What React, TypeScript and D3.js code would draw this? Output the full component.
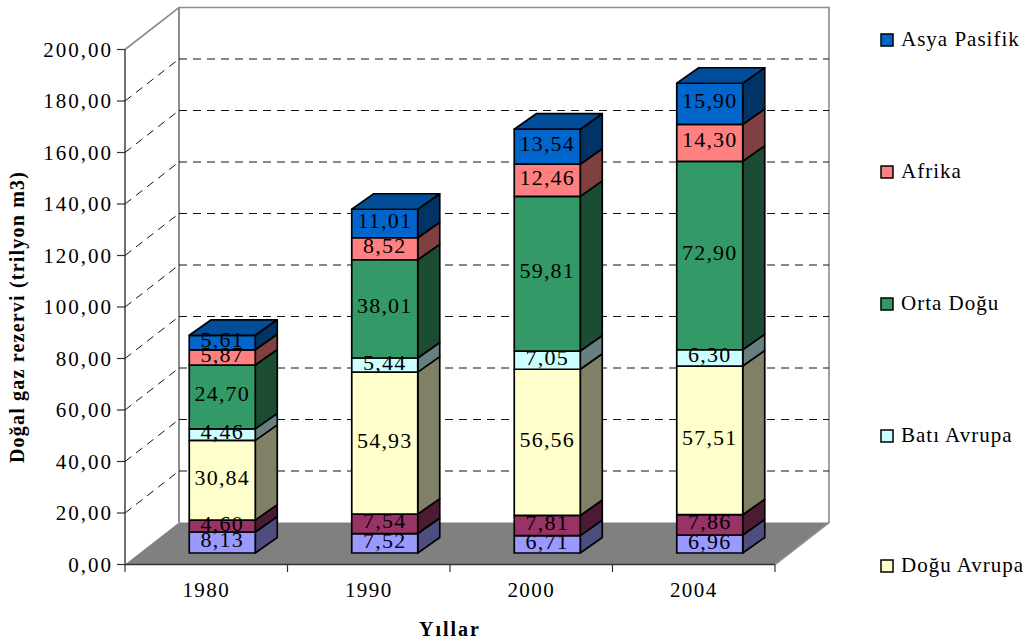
import React from "react";
import * as d3 from "d3";

// Natural gas reserves by region, trillion m3
const years = ["1980", "1990", "2000", "2004"];
const seriesNames = ["Rusya", "Kuzey Amerika", "Doğu Avrupa", "Batı Avrupa", "Orta Doğu", "Afrika", "Asya Pasifik"];
const baseA = [8.13, 7.52, 6.71, 6.96];
const baseB = [4.6, 7.54, 7.81, 7.86];
const doguAvrupa = [30.84, 54.93, 56.56, 57.51];
const batiAvrupa = [4.46, 5.44, 7.05, 6.3];
const ortaDogu = [24.7, 38.01, 59.81, 72.9];
const afrika = [5.87, 8.52, 12.46, 14.3];
const asyaPasifik = [5.61, 11.01, 13.54, 15.9];
const seriesValues = [baseA, baseB, doguAvrupa, batiAvrupa, ortaDogu, afrika, asyaPasifik];
const seriesColors = ["#9999FF", "#993366", "#FFFFCC", "#CCFFFF", "#339966", "#FF8080", "#0066CC"];
const legendEntries = [
  { name: "Asya Pasifik", series: 6, y: 40 },
  { name: "Afrika", series: 5, y: 172 },
  { name: "Orta Doğu", series: 4, y: 304 },
  { name: "Batı Avrupa", series: 3, y: 436 },
  { name: "Doğu Avrupa", series: 2, y: 566 },
];
const tickValues = d3.range(0, 201, 20);
const gridValues = d3.range(20, 181, 20);

const FONT = "'Liberation Serif', 'Times New Roman', serif";
const yScale = d3.scaleLinear().domain([0, 200]).range([564.5, 49.5]);
// Columns stand mid-depth on the floor, so they have their own vertical scale
const barScale = d3.scaleLinear().domain([0, 200]).range([553, 36]);
const xBand = d3.scaleBand().domain(years).range([125, 775]);
const wallDx = 54;
const wallDy = -42;
const barW = 66;
const barShift = 16;
const barDx = 22;
const barDy = -15.5;
const INK = "#000";
const WALL = "#8c8c8c";
const AXIS = "#333";

const shade = (c: string, k: number) => {
  const r = d3.rgb(c);
  return d3.rgb(r.r * k, r.g * k, r.b * k).formatHex();
};
const fmt = (v: number) => v.toFixed(2).replace(".", ",");
const poly = (pts: number[][]) => pts.map((p) => p.join(",")).join(" ");

export default function App() {
  const y0 = yScale(0);
  const x0 = 125;
  const x1 = 775;
  const wallTop = yScale(200) + wallDy;
  const floorBack = y0 + wallDy;
  return (
    <svg width={1028} height={644} style={{ position: "absolute", left: 0, top: 0, fontFamily: FONT }}>
      <rect width={1028} height={644} fill="#fff" />
      {/* Floor and walls */}
      <polygon points={poly([[x0, y0], [x0 + wallDx, floorBack], [x1 + wallDx, floorBack], [x1, y0]])} fill="#808080" />
      <path
        d={`M${x0},${yScale(200)}L${x0 + wallDx},${wallTop}L${x1 + wallDx},${wallTop}L${x1 + wallDx},${floorBack}L${x1},${y0}`}
        fill="none"
        stroke={WALL}
        strokeWidth={1.6}
      />
      <line x1={x0 + wallDx} x2={x0 + wallDx} y1={wallTop} y2={floorBack} stroke={WALL} strokeWidth={2} />
      {/* Gridlines */}
      {gridValues.map((v) => (
        <g key={v} stroke="#111" strokeWidth={1} strokeDasharray="8 6" fill="none">
          <line x1={x0} y1={yScale(v)} x2={x0 + wallDx} y2={yScale(v) + wallDy} />
          <line x1={x0 + wallDx} y1={yScale(v) + wallDy} x2={x1 + wallDx} y2={yScale(v) + wallDy} />
        </g>
      ))}
      {/* Axes */}
      <line x1={x0} x2={x0} y1={yScale(200)} y2={y0} stroke={AXIS} strokeWidth={1.4} />
      <line x1={x0} x2={x1} y1={y0} y2={y0} stroke={AXIS} strokeWidth={1.4} />
      {tickValues.map((v) => (
        <g key={v}>
          <line x1={117} x2={x0} y1={yScale(v)} y2={yScale(v)} stroke={AXIS} strokeWidth={1.2} />
          <text x={113} y={yScale(v) + 7} textAnchor="end" fontSize={21} letterSpacing={2} fill="#000">
            {fmt(v)}
          </text>
        </g>
      ))}
      {[...years.map((y) => xBand(y)!), x1].map((x) => (
        <line key={x} x1={x} x2={x} y1={y0} y2={572} stroke={AXIS} strokeWidth={1.2} />
      ))}
      {years.map((y) => (
        <text key={y} x={xBand(y)! + xBand.bandwidth() / 2} y={597} textAnchor="middle" fontSize={21} letterSpacing={1.4} fill="#000">
          {y}
        </text>
      ))}
      {/* Stacked columns */}
      {years.map((year, i) => {
        const left = xBand(year)! + (xBand.bandwidth() - barW) / 2 + barShift;
        const right = left + barW;
        const cum = d3.cumsum(seriesValues.map((s) => s[i]));
        const last = seriesNames.length - 1;
        const topY = barScale(cum[last]);
        return (
          <g key={year} stroke={INK} strokeWidth={1.7} strokeLinejoin="round">
            {seriesNames.map((name, s) => {
              const lo = barScale(s ? cum[s - 1] : 0);
              const hi = barScale(cum[s]);
              return (
                <g key={name}>
                  <polygon
                    points={poly([[right, lo], [right + barDx, lo + barDy], [right + barDx, hi + barDy], [right, hi]])}
                    fill={shade(seriesColors[s], 0.5)}
                  />
                  <rect x={left} y={hi} width={barW} height={lo - hi} fill={seriesColors[s]} />
                </g>
              );
            })}
            <polygon
              points={poly([[left, topY], [left + barDx, topY + barDy], [right + barDx, topY + barDy], [right, topY]])}
              fill={shade(seriesColors[last], 0.75)}
            />
            {seriesNames.map((name, s) => {
              const lo = barScale(s ? cum[s - 1] : 0);
              const hi = barScale(cum[s]);
              return (
                <text
                  key={name}
                  x={(left + right) / 2}
                  y={(lo + hi) / 2 + 4.5}
                  textAnchor="middle"
                  fontSize={22}
                  letterSpacing={1.2}
                  fill="#000"
                  stroke="none"
                >
                  {fmt(seriesValues[s][i])}
                </text>
              );
            })}
          </g>
        );
      })}
      {/* Axis titles */}
      <text x={450} y={636} textAnchor="middle" fontSize={20} fontWeight="bold" letterSpacing={2} fill="#000">
        Yıllar
      </text>
      <text
        transform="translate(24,317) rotate(-90)"
        textAnchor="middle"
        fontSize={20}
        fontWeight="bold"
        letterSpacing={1.2}
        fill="#000"
      >
        Doğal gaz rezervi (trilyon m3)
      </text>
      {/* Legend */}
      {legendEntries.map((e) => (
        <g key={e.name}>
          <rect x={881} y={e.y - 6} width={12} height={12} fill={seriesColors[e.series]} stroke={INK} strokeWidth={1.5} />
          <text x={901} y={e.y + 6} fontSize={21} letterSpacing={1} fill="#000">
            {e.name}
          </text>
        </g>
      ))}
    </svg>
  );
}
